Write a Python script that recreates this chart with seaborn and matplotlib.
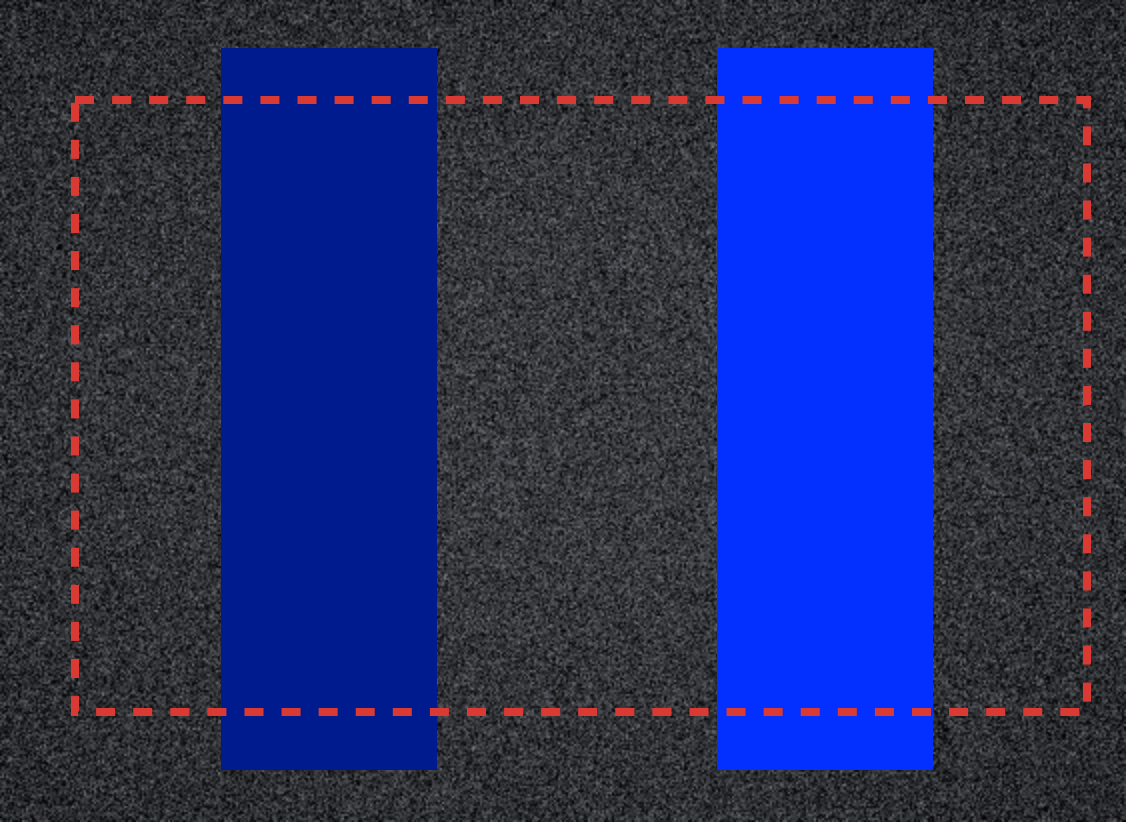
import numpy as np
import pandas as pd
import matplotlib
matplotlib.use('Agg')
import matplotlib.pyplot as plt
import seaborn as sns

# data
CATS = ['left', 'right']
VALUES = [1.0, 1.0]
BAR_COLORS = ['#001B8E', '#0430FF']
# dashed frame in data units (x: category axis, y: value axis)
FRAME_X = [-0.513, 1.530]
FRAME_Y = [0.080, 0.928]

BG, RED = '#3a3b3e', '#D93A34'

sns.set_style('dark')
plt.rcParams['lines.scale_dashes'] = False

fig = plt.figure(figsize=(11.26, 8.22), dpi=100)
ax = fig.add_axes([0, 0, 1, 1])
xlim, ylim = (-0.664, 1.608), (-0.072, 1.0665)

# noisy dark backdrop with a soft vignette (coarser grain, upsampled)
rng = np.random.default_rng(7)
h, w = 411, 563
yy, xx = np.mgrid[0:h, 0:w]
r = np.hypot((xx - w / 2) / (w / 2), (yy - h / 2) / (h / 2))
base = 58 - 16 * np.clip(r - 0.4, 0, None)
noise = rng.normal(0, 24, (h, w))
g = np.clip(base + noise, 4, 130)
img = np.stack([g * 0.96, g * 0.99, g * 1.06], axis=-1).clip(0, 255) / 255
ax.imshow(img, extent=(*xlim, *ylim), aspect='auto', zorder=0, interpolation='bilinear')

df = pd.DataFrame({'cat': CATS, 'val': VALUES})
sns.barplot(data=df, x='cat', y='val', hue='cat', palette=BAR_COLORS,
            saturation=1, width=0.436, legend=False, linewidth=0,
            edgecolor='none', ax=ax, zorder=2)

fx = [FRAME_X[0], FRAME_X[1], FRAME_X[1], FRAME_X[0], FRAME_X[0]]
fy = [FRAME_Y[1], FRAME_Y[1], FRAME_Y[0], FRAME_Y[0], FRAME_Y[1]]
ax.plot(fx, fy, color=RED, lw=5.8, dashes=(13.7, 13.0), zorder=3,
        solid_capstyle='butt', dash_capstyle='butt',
        dash_joinstyle='miter', solid_joinstyle='miter')

ax.set(xlim=xlim, ylim=ylim, xlabel='', ylabel='')
ax.axis('off')
fig.savefig('out.png', dpi=100, facecolor=BG)
